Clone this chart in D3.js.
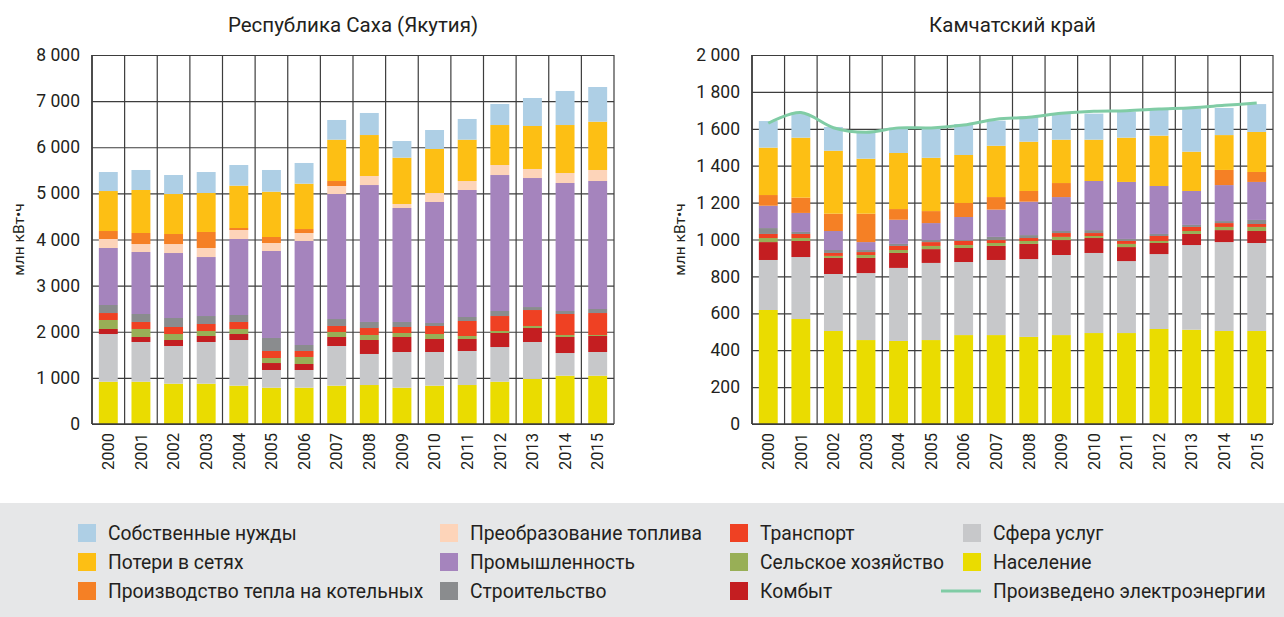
<!DOCTYPE html>
<html>
<head>
<meta charset="utf-8">
<script src="https://cdn.jsdelivr.net/npm/d3@7"></script>
<style>
  body { margin: 0; background: #fff; }
  text { font-family: Roboto, "Liberation Sans", sans-serif; fill: #231f20; }
</style>
</head>
<body>
<svg id="chart"></svg>
<script>
let width = 1284;
let height = 617;

const years = ['2000', '2001', '2002', '2003', '2004', '2005', '2006', '2007',
               '2008', '2009', '2010', '2011', '2012', '2013', '2014', '2015'];

// stack order, bottom to top
const keys = ['nas', 'sfera', 'kombyt', 'selkhoz', 'transport', 'stroit',
              'prom', 'preobr', 'kotel', 'poteri', 'sobstv'];

const names = {
    sobstv: 'Собственные нужды',
    poteri: 'Потери в сетях',
    kotel: 'Производство тепла на котельных',
    preobr: 'Преобразование топлива',
    prom: 'Промышленность',
    stroit: 'Строительство',
    transport: 'Транспорт',
    selkhoz: 'Сельское хозяйство',
    kombyt: 'Комбыт',
    sfera: 'Сфера услуг',
    nas: 'Население'
};

const colors = {
    sobstv: '#aecfe5',
    poteri: '#fdbf14',
    kotel: '#f58025',
    preobr: '#fdd4b9',
    prom: '#a584bd',
    stroit: '#8a8c8e',
    transport: '#ef4123',
    selkhoz: '#98af56',
    kombyt: '#c41e21',
    sfera: '#c7c8ca',
    nas: '#eadc00'
};
const lineColor = '#80cca5';

// Республика Саха (Якутия), млн кВт*ч
const sakhaNas       = [917, 917, 874, 874, 831, 787, 787, 831, 845, 787, 831, 845, 917, 976, 1047, 1047];
const sakhaSfera     = [1034, 861, 817, 904, 990, 384, 384, 860, 673, 774, 730, 738, 752, 802, 492, 514];
const sakhaKombyt    = [109, 108, 130, 130, 130, 151, 130, 195, 303, 325, 282, 260, 304, 303, 347, 347];
const sakhaSelkhoz   = [195, 174, 130, 108, 109, 109, 152, 109, 109, 87, 108, 65, 43, 44, 44, 22];
const sakhaTransport = [151, 152, 152, 152, 152, 152, 130, 130, 151, 130, 174, 325, 325, 346, 455, 476];
const sakhaStroit    = [174, 173, 195, 173, 151, 282, 130, 151, 131, 109, 65, 87, 109, 65, 65, 87];
const sakhaProm      = [1236, 1344, 1409, 1279, 1648, 1886, 2255, 2710, 2969, 2471, 2623, 2753, 2948, 2797, 2775, 2775];
const sakhaPreobr    = [195, 173, 195, 196, 195, 173, 173, 174, 196, 87, 195, 195, 217, 196, 217, 239];
const sakhaKotel     = [173, 239, 217, 347, 43, 130, 86, 108, 0, 0, 0, 0, 0, 0, 0, 0];
const sakhaPoteri    = [867, 932, 867, 845, 918, 983, 983, 896, 888, 1004, 954, 896, 867, 932, 1040, 1047];
const sakhaSobstv    = [412, 434, 412, 455, 448, 470, 449, 427, 478, 361, 412, 449, 456, 607, 738, 752];

// Камчатский край, млн кВт*ч
const kamNas       = [618, 569, 504, 455, 450, 455, 482, 482, 472, 482, 493, 493, 515, 511, 504, 504];
const kamSfera     = [271, 336, 309, 363, 396, 418, 396, 407, 422, 434, 434, 390, 406, 459, 482, 477];
const kamKombyt    = [97, 87, 87, 82, 81, 75, 76, 76, 82, 81, 81, 76, 60, 60, 65, 65];
const kamSelkhoz   = [22, 16, 11, 16, 16, 17, 16, 16, 16, 17, 11, 17, 11, 16, 17, 22];
const kamTransport = [22, 22, 16, 16, 22, 21, 22, 16, 16, 21, 16, 16, 27, 22, 21, 16];
const kamStroit    = [32, 11, 16, 11, 11, 11, 5, 17, 16, 11, 16, 11, 11, 11, 11, 22];
const kamProm      = [121, 103, 103, 43, 131, 92, 125, 148, 181, 184, 266, 309, 260, 184, 195, 206];
const kamPreobr    = [0, 0, 0, 0, 0, 0, 0, 0, 0, 0, 0, 0, 0, 0, 0, 0];
const kamKotel     = [58, 83, 94, 154, 58, 65, 76, 68, 58, 76, 0, 0, 0, 0, 82, 54];
const kamPoteri    = [257, 325, 341, 298, 304, 289, 260, 278, 267, 235, 224, 240, 273, 213, 189, 217];
const kamSobstv    = [144, 128, 129, 141, 137, 156, 168, 136, 136, 139, 141, 141, 139, 233, 147, 151];
const kamProduced  = [1630, 1688, 1606, 1581, 1605, 1605, 1620, 1652, 1662, 1684, 1695, 1698, 1707, 1714, 1727, 1740];

const sakhaTicks = [0, 1000, 2000, 3000, 4000, 5000, 6000, 7000, 8000];
const kamTicks = [0, 200, 400, 600, 800, 1000, 1200, 1400, 1600, 1800, 2000];

const unitLabel = 'млн кВт•ч';

let buildRows = (arrays) => {
    return years.map((year, i) => {
        let row = { year: year };
        keys.forEach((k, j) => { row[k] = arrays[j][i]; });
        return row;
    });
};

const sakhaRows = buildRows([sakhaNas, sakhaSfera, sakhaKombyt, sakhaSelkhoz, sakhaTransport,
    sakhaStroit, sakhaProm, sakhaPreobr, sakhaKotel, sakhaPoteri, sakhaSobstv]);
const kamRows = buildRows([kamNas, kamSfera, kamKombyt, kamSelkhoz, kamTransport,
    kamStroit, kamProm, kamPreobr, kamKotel, kamPoteri, kamSobstv]);

const locale = d3.formatLocale({ decimal: ',', thousands: '\u00a0', grouping: [3], currency: ['', ''] });
const fmt = locale.format(',');

const svg = d3.select('#chart')
    .attr('width', width)
    .attr('height', height);

let drawPanel = (opts) => {
    let top = 55;
    let bottom = 424;

    let x = d3.scaleBand()
        .domain(years)
        .range([opts.left, opts.right])
        .padding(0);

    let y = d3.scaleLinear()
        .domain([0, opts.max])
        .range([bottom, top]);

    let g = svg.append('g');

    // horizontal grid + tick labels
    let yAxis = d3.axisLeft(y)
        .tickValues(opts.ticks)
        .tickSize(-(opts.right - opts.left))
        .tickPadding(12)
        .tickFormat(fmt);

    let yg = g.append('g')
        .attr('transform', 'translate(' + opts.left + ', 0)')
        .call(yAxis);
    yg.select('.domain').remove();
    yg.selectAll('.tick line').attr('stroke', '#3d3d3d').attr('stroke-width', 1.2);
    yg.selectAll('.tick text').style('font-size', '17.5px').attr('fill', '#231f20');

    // vertical grid on band edges
    let edges = years.map((d) => x(d)).concat([opts.right]);
    g.append('g')
        .selectAll('line')
        .data(edges)
        .enter()
        .append('line')
        .attr('x1', (d) => d)
        .attr('x2', (d) => d)
        .attr('y1', top)
        .attr('y2', bottom)
        .attr('stroke', '#3d3d3d')
        .attr('stroke-width', 1.2);

    // stacked bars
    let stacked = d3.stack().keys(keys)(opts.rows);
    let barW = x.bandwidth() * 0.58;
    let barOff = (x.bandwidth() - barW) / 2;

    g.append('g')
        .selectAll('g')
        .data(stacked)
        .enter()
        .append('g')
        .attr('fill', (d) => colors[d.key])
        .selectAll('rect')
        .data((d) => d)
        .enter()
        .append('rect')
        .attr('x', (d) => x(d.data.year) + barOff)
        .attr('width', barW)
        .attr('y', (d) => y(d[1]))
        .attr('height', (d) => y(d[0]) - y(d[1]));

    // axis lines
    g.append('line')
        .attr('x1', opts.left).attr('x2', opts.left)
        .attr('y1', top).attr('y2', bottom)
        .attr('stroke', '#3d3d3d').attr('stroke-width', 1.6);
    g.append('line')
        .attr('x1', opts.left).attr('x2', opts.right)
        .attr('y1', bottom).attr('y2', bottom)
        .attr('stroke', '#3d3d3d').attr('stroke-width', 1.6);

    // produced line
    if (opts.line) {
        let line = d3.line()
            .x((d, i) => x(years[i]) + x.bandwidth() / 2)
            .y((d) => y(d))
            .curve(d3.curveCardinal);
        g.append('path')
            .datum(opts.line)
            .attr('d', line)
            .attr('fill', 'none')
            .attr('stroke', lineColor)
            .attr('stroke-width', 3);
    }

    // year labels
    let xAxis = d3.axisBottom(x).tickSize(0);
    let xg = g.append('g')
        .attr('transform', 'translate(0, ' + bottom + ')')
        .call(xAxis);
    xg.select('.domain').remove();
    xg.selectAll('.tick text')
        .attr('transform', 'rotate(-90)')
        .attr('x', -9)
        .attr('y', 0)
        .attr('dy', '0.35em')
        .style('text-anchor', 'end')
        .style('font-size', '16.5px')
        .attr('fill', '#231f20');

    // title
    g.append('text')
        .attr('x', (opts.left + opts.right) / 2)
        .attr('y', 32)
        .attr('text-anchor', 'middle')
        .style('font-size', '20.5px')
        .text(opts.title);

    // unit label
    g.append('text')
        .attr('transform', 'translate(' + opts.unitX + ', ' + ((top + bottom) / 2) + ') rotate(-90)')
        .attr('text-anchor', 'middle')
        .attr('dy', '0.35em')
        .style('font-size', '15.5px')
        .text(unitLabel);
};

drawPanel({
    left: 92, right: 614, max: 8000, ticks: sakhaTicks,
    rows: sakhaRows, title: 'Республика Саха (Якутия)', unitX: 19
});

drawPanel({
    left: 752, right: 1273, max: 2000, ticks: kamTicks,
    rows: kamRows, title: 'Камчатский край', unitX: 680, line: kamProduced
});

// legend
svg.append('rect')
    .attr('x', 0)
    .attr('y', 503)
    .attr('width', width)
    .attr('height', height - 503)
    .attr('fill', '#e6e7e8');

const legendCols = [
    ['sobstv', 'poteri', 'kotel'],
    ['preobr', 'prom', 'stroit'],
    ['transport', 'selkhoz', 'kombyt'],
    ['sfera', 'nas', 'line']
];
const colX = [78, 440, 730, 963];
const rowY = [533, 562, 591];

let legend = svg.append('g');
legendCols.forEach((col, ci) => {
    col.forEach((k, ri) => {
        let cy = rowY[ri];
        if (k === 'line') {
            legend.append('line')
                .attr('x1', colX[ci] - 22).attr('x2', colX[ci] + 18)
                .attr('y1', cy).attr('y2', cy)
                .attr('stroke', lineColor).attr('stroke-width', 3);
        } else {
            legend.append('rect')
                .attr('x', colX[ci])
                .attr('y', cy - 9)
                .attr('width', 18)
                .attr('height', 18)
                .attr('fill', colors[k]);
        }
        legend.append('text')
            .attr('x', colX[ci] + 30)
            .attr('y', cy)
            .attr('dy', '0.35em')
            .style('font-size', '19.3px')
            .text(k === 'line' ? 'Произведено электроэнергии' : names[k]);
    });
});
</script>
</body>
</html>
